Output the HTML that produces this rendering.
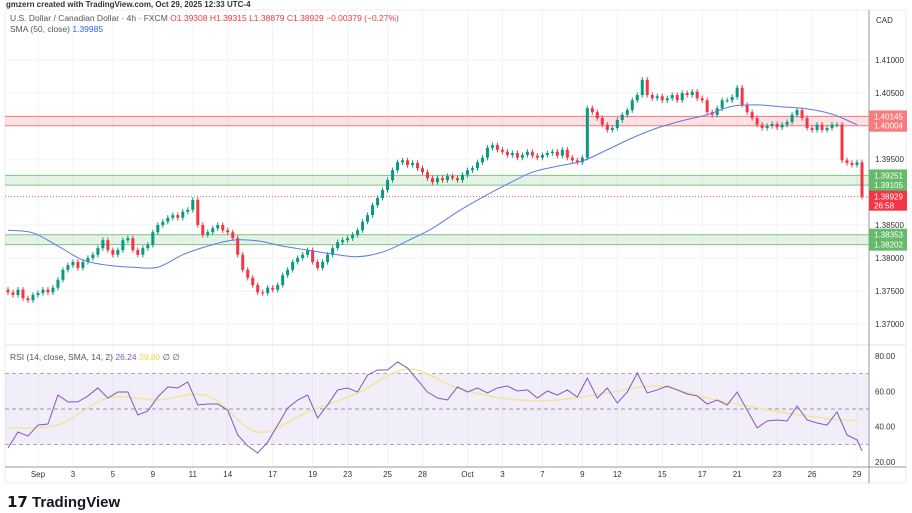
<!DOCTYPE html>
<html><head><meta charset="utf-8">
<style>
body{margin:0;background:#fff;width:912px;height:513px;overflow:hidden;font-family:"Liberation Sans",sans-serif;}
svg{position:absolute;left:0;top:0}
</style></head>
<body>
<svg id="c" width="912" height="513" xmlns="http://www.w3.org/2000/svg">
<text x="6" y="7" font-size="8" fill="#333" font-weight="bold">gmzern created with TradingView.com, Oct 29, 2025 12:33 UTC-4</text>
<rect x="5" y="10" width="901" height="473" fill="none" stroke="#eceef2"/>
<g id="grid"></g>
<g id="zones"></g>
<g id="candles"></g>
<g id="sma"></g>
<g id="rsi"></g>
<g id="axes"></g>
<text x="10" y="21" font-size="8.5" fill="#555">U.S. Dollar / Canadian Dollar · 4h · FXCM  <tspan fill="#f23645">O1.39308  H1.39315  L1.38879  C1.38929  −0.00379 (−0.27%)</tspan></text>
<text x="10" y="32" font-size="8.5" fill="#555">SMA (50, close) <tspan fill="#2962ff">1.39985</tspan></text>
<text x="10" y="360" font-size="8.5" fill="#555">RSI (14, close, SMA, 14, 2) <tspan fill="#7e57c2">26.24</tspan> <tspan fill="#f0d44a">39.80</tspan> ∅ ∅</text>
<text x="876" y="23" font-size="8" fill="#333">CAD</text>
<g>
<text x="7" y="507" font-size="15" font-weight="bold" fill="#131722">𝟭𝟳 TradingView</text>
</g>
</svg>
<script>
const closes=[1.3748,1.3744,1.3752,1.3739,1.3736,1.3744,1.3747,1.3752,1.3748,1.3755,
1.3767,1.3782,1.3789,1.3794,1.3785,1.3794,1.3800,1.3805,1.3815,1.3827,
1.3812,1.3805,1.3812,1.3827,1.3830,1.3812,1.3805,1.3815,1.3820,1.3839,
1.3850,1.3855,1.3861,1.3865,1.3861,1.3870,1.3873,1.3888,1.3850,1.3835,
1.3839,1.3845,1.3850,1.3842,1.3839,1.3830,1.3805,1.3782,1.3770,1.3759,
1.3748,1.3747,1.3755,1.3752,1.3759,1.3774,1.3782,1.3794,1.3800,1.3805,
1.3812,1.3794,1.3785,1.3794,1.3805,1.3815,1.3824,1.3827,1.3830,1.3835,
1.3842,1.3855,1.3865,1.3880,1.3891,1.3903,1.3918,1.3933,1.3945,1.3948,
1.3941,1.3944,1.3936,1.3930,1.3921,1.3915,1.3921,1.3918,1.3924,1.3921,
1.3918,1.3926,1.3933,1.3936,1.3945,1.3952,1.3967,1.3971,1.3964,1.3961,
1.3956,1.3959,1.3952,1.3956,1.3961,1.3955,1.3952,1.3956,1.3959,1.3961,
1.3955,1.3964,1.3952,1.3948,1.3945,1.3952,1.4027,1.4021,1.4012,1.4002,
1.3994,1.3997,1.4009,1.4017,1.4024,1.4039,1.4047,1.4070,1.4047,1.4042,
1.4045,1.4039,1.4042,1.4047,1.4039,1.4050,1.4047,1.4052,1.4042,1.4039,
1.4021,1.4017,1.4027,1.4039,1.4039,1.4044,1.4058,1.4032,1.4021,1.4012,
1.4002,1.3997,1.4000,1.4003,1.3998,1.4002,1.4006,1.4017,1.4024,1.4012,
1.3997,1.3994,1.4002,1.3994,1.3997,1.4002,1.4002,1.3948,1.3944,1.3941,
1.3945,1.38929];
const firstOpen=1.3752;
const sma50=[1.3842,1.3838,1.3818,1.3797,1.3789,1.3786,1.3786,1.3805,1.3818,1.3827,1.3826,1.3818,1.3812,1.3806,1.3802,1.3809,1.3826,1.3845,1.3870,1.3892,1.3912,1.3930,1.3939,1.3947,1.3964,1.3982,1.3997,1.4008,1.4017,1.4030,1.4032,1.4029,1.4026,1.4018,1.4002];
const rsiVals=[27.9,37.0,34.7,40.9,41.5,57.9,54.0,54.0,57.4,61.9,56.2,59.6,59.6,46.6,48.9,56.8,62.5,61.9,65.3,52.3,52.8,52.8,49.4,35.3,29.1,25.1,31.3,40.9,50.6,55.1,57.9,44.9,52.3,60.8,61.9,59.6,69.2,72.1,72.1,76.6,73.2,66.4,59.6,56.2,55.1,62.5,59.6,61.9,59.1,61.9,63.0,60.2,60.8,56.2,60.2,57.9,60.8,56.8,67.5,56.2,61.9,53.4,59.6,70.4,59.1,60.8,63.0,60.8,58.5,57.4,52.8,55.1,52.3,59.6,49.4,39.3,43.2,43.8,43.2,51.7,43.8,42.1,40.9,48.3,35.3,32.5,26.24];
const rsiMA=[39.3,41.0,56.2,55.1,57.4,37.0,48.3,59.1,72.6,61.9,55.7,55.1,59.1,63.0,56.2,50.6,46.0,43.2];
const priceTicks=["1.41000","1.40500","1.39500","1.38500","1.38000","1.37500","1.37000"];
const rsiTicks=["80.00","60.00","40.00","20.00"];
const dateLabels=["Sep","3","5","9","11","14","17","19","23","25","28","Oct","3","7","9","12","15","17","21","23","26","29"];
const dateCandle=[6,13,21,29,37,44,53,61,68,76,83,92,99,107,115,122,131,139,146,154,161,170];
const zonesData=[[1.40145,1.40004,"r"],[1.39251,1.39105,"g"],[1.38353,1.38202,"g"]];

const NS="http://www.w3.org/2000/svg";
const N=closes.length;
const X=i=>8+i*(854/(N-1));
const Y=p=>60+(1.41-p)*6600;
const RY=v=>356+(80-v)*(106/60);
function el(tag,attrs,parent){const e=document.createElementNS(NS,tag);for(const k in attrs)e.setAttribute(k,attrs[k]);document.getElementById(parent).appendChild(e);return e;}

// grid
dateCandle.forEach((ci,j)=>{
 const l=el('line',{x1:X(ci),x2:X(ci),y1:10,y2:467,stroke:'#f2f3f5'},'grid');
 
 
 const t=el('text',{x:X(ci),y:477,'font-size':8,fill:'#333','text-anchor':'middle'},'axes');
 t.textContent=dateLabels[j];
 
 
});
priceTicks.forEach(s=>{
 const y=Y(parseFloat(s));
 const l=el('line',{x1:5,x2:869,y1:y,y2:y,stroke:'#f2f3f5'},'grid');
 
 
 const t=el('text',{x:875,y:y+3,'font-size':8,fill:'#333'},'axes');
 t.textContent=s;
 
 
});
// pane separators
[[345,345],[467,467]].forEach(a=>{const l=el('line',{x1:5,x2:906,y1:a[0],y2:a[1],stroke:a[0]==467?'#9598a1':'#e0e3eb'},'axes');
 
 });
const ax=el('line',{x1:869,x2:869,y1:10,y2:483,stroke:'#9598a1'},'axes');



// zones
zonesData.forEach(z=>{
 const y1=Y(z[0]),y2=Y(z[1]);const red=z[2]=="r";
 const r=el('rect',{x:5,y:y1,width:864,height:y2-y1,fill:red?'rgba(242,54,69,0.15)':'rgba(76,175,80,0.15)'},'zones');
 
 
 [y1,y2].forEach(yy=>{const l=el('line',{x1:5,x2:869,y1:yy,y2:yy,stroke:red?'#ef7a80':'#7cc47f','stroke-width':1},'zones');
  
  });
 const b=el('rect',{x:869,y:y1-6,width:38,height:y2-y1+12,fill:red?'#f77c80':'#66bb6a'},'axes');
 
 
 [[z[0],y1+3],[z[1],y2+3]].forEach(q=>{const t=el('text',{x:874,y:q[1],'font-size':8,fill:'#fff'},'axes');t.textContent=q[0].toFixed(5);
  
  });
});
// current price line and badge
const last=closes[N-1];
const cl=el('line',{x1:5,x2:869,y1:Y(last),y2:Y(last),stroke:'#f23645','stroke-dasharray':'1 2','stroke-width':0.8},'zones');


const cb=el('rect',{x:869,y:Y(last)-6,width:38,height:20,fill:'#f23645'},'axes');


const ct=el('text',{x:874,y:Y(last)+3,'font-size':8,fill:'#fff'},'axes');ct.textContent=last.toFixed(5);


const cd=el('text',{x:874,y:Y(last)+12,'font-size':8,fill:'#fff'},'axes');cd.textContent="26:58";



// candles
for(let i=0;i<N;i++){
 const o=i==0?firstOpen:closes[i-1],c=closes[i];
 const up=c>=o,col=up?'#089981':'#f23645';
 const hi=Math.max(o,c)+0.0004,lo=Math.min(o,c)-0.0004;
 const w=el('line',{x1:X(i),x2:X(i),y1:Y(hi),y2:Y(lo),stroke:col,'stroke-width':1},'candles');
 
 
 const top=Y(Math.max(o,c)),h=Math.max(1,Y(Math.min(o,c))-top);
 const b=el('rect',{x:X(i)-1.5,y:top,width:3,height:h,fill:col},'candles');
 
 
}
function smooth(pts){let d='M'+pts[0][0]+','+pts[0][1];
 for(let i=0;i<pts.length-1;i++){const p0=pts[i-1]||pts[i],p1=pts[i],p2=pts[i+1],p3=pts[i+2]||p2;
  d+=' C'+(p1[0]+(p2[0]-p0[0])/6)+','+(p1[1]+(p2[1]-p0[1])/6)+' '+(p2[0]-(p3[0]-p1[0])/6)+','+(p2[1]-(p3[1]-p1[1])/6)+' '+p2[0]+','+p2[1];}
 return d;}
const smaPts=sma50.map((v,k)=>[X(Math.min(5*k,N-1)),Y(v)]);
const sp=el('path',{d:smooth(smaPts),fill:'none',stroke:'#5b7be0','stroke-width':1},'sma');



// RSI pane
const band=el('rect',{x:5,y:RY(70),width:864,height:RY(30)-RY(70),fill:'rgba(126,87,194,0.1)'},'rsi');


[70,50,30].forEach(v=>{const l=el('line',{x1:5,x2:869,y1:RY(v),y2:RY(v),stroke:'#787b86','stroke-dasharray':'4 3','stroke-width':0.7},'rsi');
 
 });
rsiTicks.forEach(s=>{const t=el('text',{x:875,y:RY(parseFloat(s))+3,'font-size':8,fill:'#333'},'axes');t.textContent=s;
 
 });
const maPts=rsiMA.map((v,k)=>[X(Math.min(10*k,N-1)),RY(v)]);
const mp=el('path',{d:smooth(maPts),fill:'none',stroke:'#f5e39c','stroke-width':1.5},'rsi');


const rp=el('polyline',{points:rsiVals.map((v,k)=>X(Math.min(2*k,N-1))+','+RY(v)).join(' '),fill:'none',stroke:'#7e57c2','stroke-width':1},'rsi');


</script>
</body></html>
